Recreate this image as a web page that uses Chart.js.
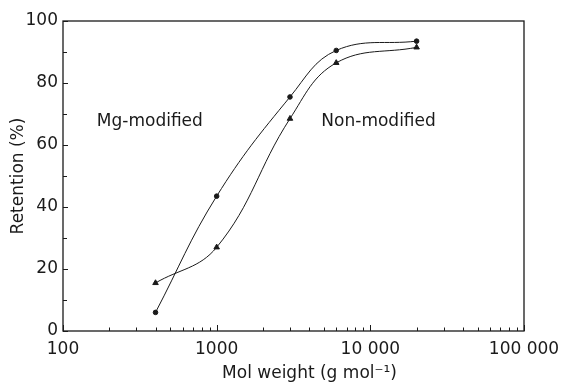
<!DOCTYPE html>
<html>
<head>
<meta charset="utf-8">
<script src="https://cdn.jsdelivr.net/npm/chart.js@4.4.0/dist/chart.umd.min.js"></script>
<style>
  html, body { margin: 0; padding: 0; background: #fff; }
  #wrap { width: 562px; height: 385px; }
</style>
</head>
<body>
<div id="wrap"><canvas id="chart" width="562" height="385"></canvas></div>
<script>
// data
const molWeights = [400, 1000, 3000, 6000, 20000];
const mgModified = [6, 43.5, 75.5, 90.5, 93.5];
const nonModified = [15.5, 27, 68.5, 86.5, 91.5];

// axis ticks
const xTickValues = [100, 1000, 10000, 100000];
const xTickLabels = ["100", "1000", "10 000", "100 000"];
const yTickValues = [0, 20, 40, 60, 80, 100];
const yTickLabels = ["0", "20", "40", "60", "80", "100"];

// text labels inside the plot
const notes = [
    { text: "Mg-modified", x: 166, y: 66 },
    { text: "Non-modified", x: 4800, y: 66 },
];
const xTitle = "Mol weight (g mol⁻¹)";

const FONT = "'DejaVu Sans', sans-serif";
const INK = "#1a1a1a";

function toPoints(xs, ys) {
    return xs.map(function (x, i) { return { x: x, y: ys[i] }; });
}

// frame, inward ticks and the text notes
const decorPlugin = {
    id: "decor",
    beforeDatasetsDraw(chart) {
        const ctx = chart.ctx;
        const a = chart.chartArea;
        const xs = chart.scales.x;
        const ys = chart.scales.y;
        ctx.save();
        ctx.strokeStyle = INK;
        ctx.lineWidth = 1.3;
        ctx.strokeRect(a.left, a.top, a.right - a.left, a.bottom - a.top);

        ctx.lineWidth = 1;
        ys.ticks.forEach(function (t) {
            const py = Math.round(ys.getPixelForValue(t.value)) + 0.5;
            const len = yTickValues.includes(t.value) ? 5 : 4;
            ctx.beginPath();
            ctx.moveTo(a.left, py);
            ctx.lineTo(a.left + len, py);
            ctx.stroke();
        });
        xs.ticks.forEach(function (t) {
            const px = Math.round(xs.getPixelForValue(t.value)) + 0.5;
            const len = xTickValues.includes(t.value) ? 6 : 3.5;
            ctx.beginPath();
            ctx.moveTo(px, a.bottom);
            ctx.lineTo(px, a.bottom - len);
            ctx.stroke();
        });
        ctx.restore();
    },
    afterDraw(chart) {
        const ctx = chart.ctx;
        const a = chart.chartArea;
        const xs = chart.scales.x;
        const ys = chart.scales.y;
        ctx.save();
        ctx.fillStyle = INK;
        ctx.font = "17px " + FONT;
        ctx.textBaseline = "alphabetic";
        ctx.textAlign = "left";
        notes.forEach(function (n) {
            ctx.fillText(n.text, xs.getPixelForValue(n.x), ys.getPixelForValue(n.y));
        });
        // x axis title, sitting a little right of centre as in the figure
        ctx.textAlign = "center";
        ctx.textBaseline = "middle";
        ctx.fillText(xTitle, (a.left + a.right) / 2 + 16, xs.bottom - 11);
        ctx.restore();
    },
};

const ctx = document.getElementById("chart").getContext("2d");
const retentionChart = new Chart(ctx, {
    type: "scatter",
    data: {
        datasets: [
            {
                label: "Mg-modified",
                data: toPoints(molWeights, mgModified),
                showLine: true,
                tension: 0.4,
                borderColor: INK,
                borderWidth: 1,
                pointStyle: "circle",
                pointRadius: 2.3,
                pointBackgroundColor: INK,
                pointBorderColor: INK,
            },
            {
                label: "Non-modified",
                data: toPoints(molWeights, nonModified),
                showLine: true,
                tension: 0.4,
                borderColor: INK,
                borderWidth: 1,
                pointStyle: "triangle",
                pointRadius: 3.2,
                pointBackgroundColor: INK,
                pointBorderColor: INK,
            },
        ],
    },
    options: {
        responsive: false,
        animation: false,
        devicePixelRatio: 1,
        layout: { padding: { top: 21, right: 38, left: 0, bottom: 0 } },
        plugins: {
            legend: { display: false },
            tooltip: { enabled: false },
        },
        scales: {
            x: {
                type: "logarithmic",
                min: 100,
                max: 100000,
                afterFit: function (scale) {
                    scale.height = 54;
                    scale.paddingLeft = 0;
                    scale.paddingRight = 0;
                },
                afterBuildTicks: function (scale) {
                    const vals = [];
                    for (let d = 100; d < 100000; d *= 10) {
                        for (let m = 1; m < 10; m++) vals.push(d * m);
                    }
                    vals.push(100000);
                    scale.ticks = vals.map(function (v) { return { value: v }; });
                },
                grid: { display: false, drawTicks: false },
                border: { display: false },
                ticks: {
                    autoSkip: false,
                    maxRotation: 0,
                    padding: 8,
                    color: INK,
                    font: { family: FONT, size: 17 },
                    callback: function (value) {
                        const i = xTickValues.indexOf(value);
                        return i >= 0 ? xTickLabels[i] : "";
                    },
                },
                title: { display: false },
            },
            y: {
                min: 0,
                max: 100,
                afterFit: function (scale) {
                    scale.width = 63;
                    scale.paddingTop = 0;
                    scale.paddingBottom = 0;
                },
                grid: { display: false, drawTicks: false },
                border: { display: false },
                ticks: {
                    stepSize: 10,
                    autoSkip: false,
                    padding: 5,
                    color: INK,
                    font: { family: FONT, size: 17 },
                    callback: function (value) {
                        const i = yTickValues.indexOf(value);
                        return i >= 0 ? yTickLabels[i] : "";
                    },
                },
                title: {
                    display: true,
                    text: "Retention (%)",
                    color: INK,
                    font: { family: FONT, size: 17 },
                    padding: { top: 8, bottom: 0 },
                },
            },
        },
    },
    plugins: [decorPlugin],
});
</script>
</body>
</html>
